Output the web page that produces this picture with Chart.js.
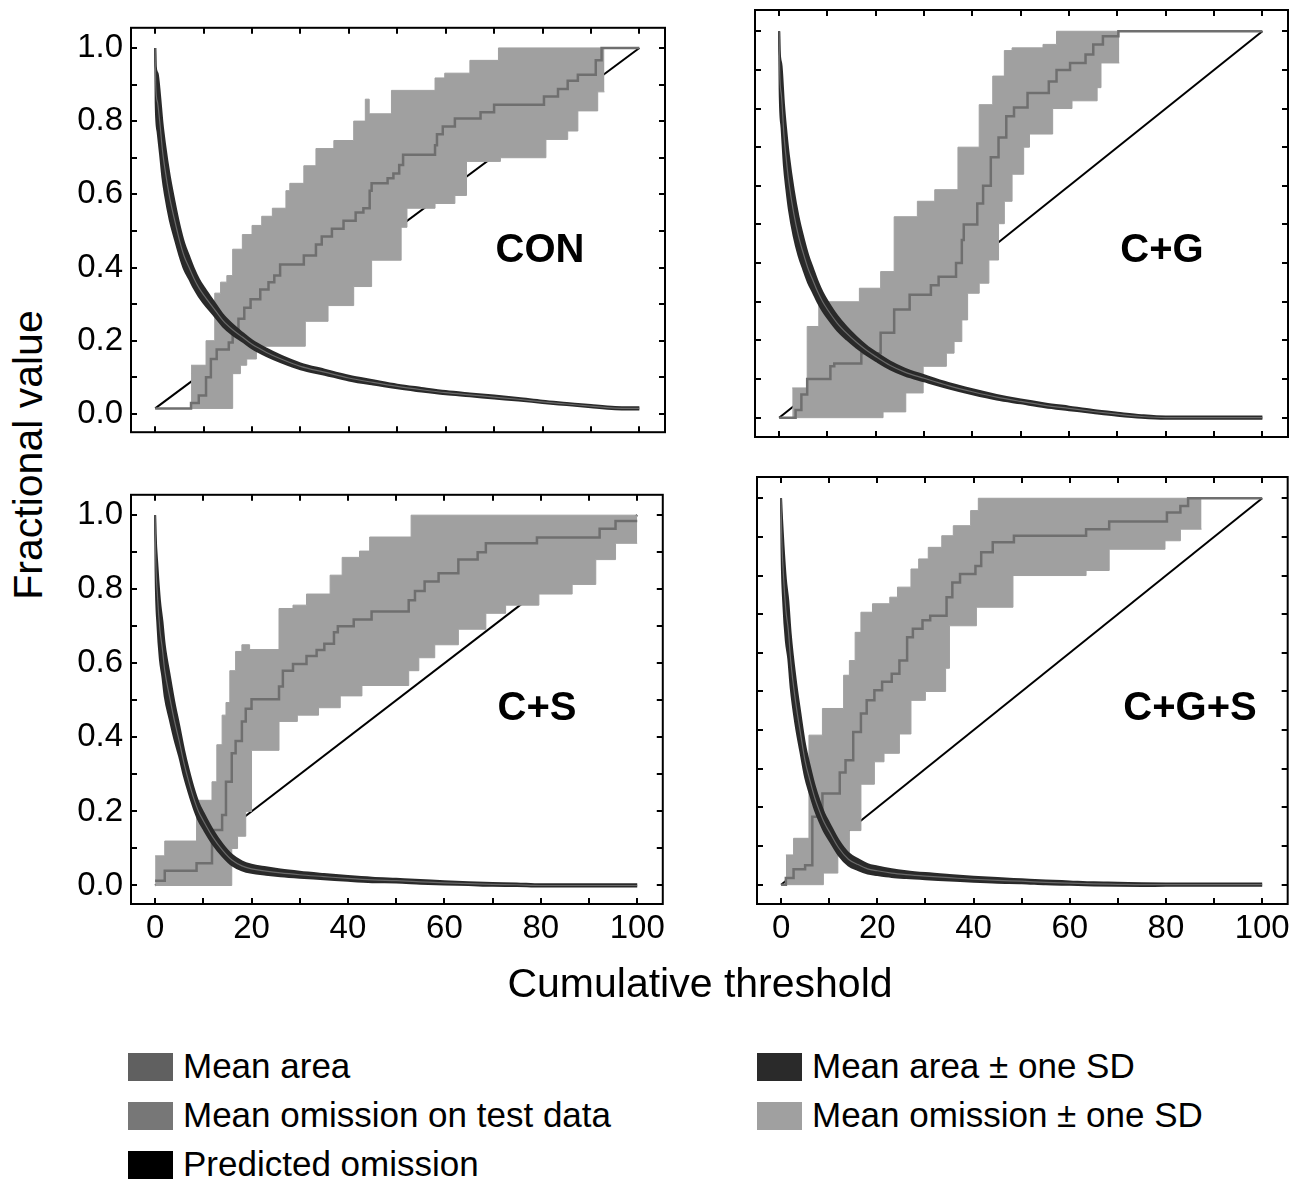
<!DOCTYPE html>
<html lang="en">
<head>
  <meta charset="UTF-8">
  <title>Omission and predicted area</title>
  <script src="https://cdn.jsdelivr.net/npm/chart.js"></script>
  <style>
    body {
      margin: 0;
      background: white;
      font-family: "Liberation Sans", Arial, sans-serif;
      color: black;
    }
    #page {
      position: relative;
      width: 1297px;
      height: 1179px;
      overflow: hidden;
    }
    canvas { position: absolute; }
    .tag {
      position: absolute;
      font-weight: bold;
      font-size: 40px;
      transform: translate(-50%, -50%);
      white-space: nowrap;
    }
    .title {
      position: absolute;
      font-size: 41px;
      white-space: nowrap;
      transform: translate(-50%, -50%);
    }
    .key {
      position: absolute;
      font-size: 35px;
      white-space: nowrap;
      transform: translateY(-50%);
    }
    .key span {
      display: inline-block;
      width: 45px;
      height: 28px;
      margin-right: 10px;
      vertical-align: -3px;
    }
  </style>
</head>
<body>
<div id="page">
  <canvas id="pCON" width="610" height="460" style="left:60px;top:0px"></canvas>
  <canvas id="pCG" width="605" height="460" style="left:690px;top:0px"></canvas>
  <canvas id="pCS" width="610" height="493" style="left:60px;top:467px"></canvas>
  <canvas id="pCGS" width="605" height="493" style="left:690px;top:467px"></canvas>

  <div class="tag" style="left:540px;top:248px">CON</div>
  <div class="tag" style="left:1162px;top:248px">C+G</div>
  <div class="tag" style="left:537px;top:706px">C+S</div>
  <div class="tag" style="left:1190px;top:706px">C+G+S</div>

  <div class="title" style="left:28px;top:455px;transform:translate(-50%,-50%) rotate(-90deg)">Fractional value</div>
  <div class="title" style="left:700px;top:983px">Cumulative threshold</div>

  <div class="key" style="left:128px;top:1066px"><span style="background:#606060"></span>Mean area</div>
  <div class="key" style="left:128px;top:1115px"><span style="background:#777777"></span>Mean omission on test data</div>
  <div class="key" style="left:128px;top:1164px"><span style="background:#000000"></span>Predicted omission</div>
  <div class="key" style="left:757px;top:1066px"><span style="background:#2a2a2a"></span>Mean area ± one SD</div>
  <div class="key" style="left:757px;top:1115px"><span style="background:#a0a0a0"></span>Mean omission ± one SD</div>
</div>

<script>
  // tick positions
  const xTicks = [0, 10, 20, 30, 40, 50, 60, 70, 80, 90, 100];
  const yTicks = [0, 0.1, 0.2, 0.3, 0.4, 0.5, 0.6, 0.7, 0.8, 0.9, 1.0];

  // fractional predicted area (mean) read at these thresholds
  const xGrid = [0, 0.1, 0.5, 1, 1.5, 2, 3, 4, 5, 6, 7, 8, 9, 10, 12, 14, 16, 18, 20, 23, 26, 30, 35, 40, 45, 50, 55, 60, 65, 70, 75, 80, 85, 90, 95, 100];
  const areaCON = [1.0, 0.9, 0.85, 0.79, 0.72, 0.67, 0.59, 0.53, 0.475, 0.43, 0.40, 0.37, 0.345, 0.325, 0.29, 0.255, 0.23, 0.21, 0.19, 0.168, 0.15, 0.13, 0.114, 0.098, 0.086, 0.075, 0.066, 0.058, 0.052, 0.046, 0.04, 0.033, 0.027, 0.021, 0.016, 0.015];
  const areaCG = [1.0, 0.9, 0.83, 0.73, 0.665, 0.61, 0.53, 0.47, 0.425, 0.385, 0.355, 0.325, 0.30, 0.28, 0.245, 0.218, 0.195, 0.175, 0.158, 0.135, 0.118, 0.102, 0.083, 0.067, 0.053, 0.042, 0.032, 0.024, 0.016, 0.009, 0.003, 0, 0, 0, 0, 0];
  const areaCS = [1.0, 0.9, 0.78, 0.69, 0.64, 0.58, 0.51, 0.445, 0.39, 0.33, 0.28, 0.236, 0.2, 0.175, 0.13, 0.095, 0.068, 0.053, 0.045, 0.039, 0.034, 0.029, 0.024, 0.019, 0.015, 0.013, 0.01, 0.007, 0.005, 0.003, 0.002, 0, 0, 0, 0, 0];
  const areaCGS = [1.0, 0.92, 0.8, 0.71, 0.66, 0.58, 0.475, 0.395, 0.32, 0.27, 0.225, 0.19, 0.16, 0.138, 0.095, 0.066, 0.052, 0.041, 0.036, 0.03, 0.026, 0.022, 0.018, 0.014, 0.011, 0.009, 0.006, 0.004, 0.002, 0.001, 0, 0, 0, 0, 0, 0];
  // one SD of the area (same grid)
  const areaSD = [0, 0.05, 0.08, 0.08, 0.075, 0.07, 0.06, 0.05, 0.042, 0.036, 0.031, 0.027, 0.024, 0.022, 0.019, 0.016, 0.014, 0.012, 0.011, 0.01, 0.009, 0.008, 0.007, 0.0065, 0.006, 0.005, 0.005, 0.0045, 0.004, 0.004, 0.0035, 0.003, 0.003, 0.003, 0.003, 0.003];

  // omission on test data: [threshold, value] where the step lands
  const omMeanCON = [[0, 0.015], [7.4, 0.03], [9, 0.05], [10.5, 0.1], [11.5, 0.15], [12.7, 0.176], [15.2, 0.195], [16, 0.23], [17.2, 0.26], [18.4, 0.29], [19.7, 0.313], [21.7, 0.34], [23.4, 0.36], [24.6, 0.378], [25.8, 0.408], [30.7, 0.433], [33.2, 0.463], [34.4, 0.485], [36.5, 0.506], [38.9, 0.528], [41.4, 0.55], [43, 0.562], [44.3, 0.61], [44.7, 0.63], [48, 0.644], [49.2, 0.657], [50.4, 0.68], [51.2, 0.708], [57.8, 0.734], [58.2, 0.764], [59.4, 0.785], [61.9, 0.807], [67.2, 0.824], [70, 0.845], [80.3, 0.867], [83.2, 0.888], [85.2, 0.91], [87.3, 0.927], [91, 0.966], [92.2, 1.0], [100, 1.0]];
  const omUpCON = [[7.4, 0.133], [10.5, 0.2], [12.3, 0.33], [13.5, 0.36], [14.8, 0.378], [16, 0.45], [18, 0.49], [20, 0.515], [22, 0.54], [24.2, 0.562], [27, 0.61], [27.8, 0.63], [30.7, 0.678], [33.2, 0.725], [36.9, 0.747], [41, 0.8], [43.4, 0.86], [44.2, 0.82], [48.8, 0.884], [57.8, 0.918], [59.8, 0.931], [65, 0.966], [70.9, 1.0], [92.8, 1.0]];
  const omLoCON = [[7.4, 0.015], [16, 0.11], [17.6, 0.133], [18.9, 0.15], [20.9, 0.185], [31, 0.253], [35.7, 0.296], [41, 0.348], [44.7, 0.42], [50.8, 0.51], [52, 0.562], [57.8, 0.575], [61.9, 0.597], [64.3, 0.69], [71.3, 0.7], [80.7, 0.75], [85.2, 0.773], [87.3, 0.828], [91.4, 0.88], [92.8, 0.88]];

  const omMeanCG = [[0, 0], [3.4, 0.02], [4.6, 0.06], [5.8, 0.1], [10.6, 0.133], [11.4, 0.14], [17, 0.167], [21, 0.22], [23.8, 0.28], [27, 0.318], [31.4, 0.343], [33, 0.365], [36.6, 0.4], [37.8, 0.46], [38.2, 0.5], [41, 0.554], [42.2, 0.6], [43.8, 0.674], [45.4, 0.725], [47, 0.78], [48.6, 0.803], [51.4, 0.84], [55.8, 0.87], [57.4, 0.9], [60.2, 0.918], [63.4, 0.94], [65, 0.966], [67, 0.987], [70.2, 1.0], [100, 1.0]];
  const omUpCG = [[2.7, 0.077], [5.8, 0.236], [8.2, 0.3], [16.6, 0.335], [21, 0.378], [23.8, 0.52], [28.6, 0.56], [32.2, 0.59], [37, 0.7], [41.4, 0.81], [44.2, 0.884], [46.6, 0.95], [48.2, 0.957], [54.6, 0.966], [57.4, 1.0], [70.4, 1.0]];
  const omLoCG = [[2.7, 0], [21.5, 0.015], [26.2, 0.064], [29.8, 0.133], [34.6, 0.167], [36.2, 0.197], [37.8, 0.253], [39, 0.322], [41.4, 0.348], [43.4, 0.408], [45.4, 0.502], [46.6, 0.56], [48.2, 0.63], [50.6, 0.7], [51.8, 0.734], [56.6, 0.8], [60.6, 0.82], [65.8, 0.854], [66.6, 0.918], [70.4, 0.918]];

  const omMeanCS = [[0, 0.013], [2, 0.04], [8.6, 0.06], [11.8, 0.15], [13.9, 0.19], [14.7, 0.28], [15.9, 0.357], [16.7, 0.39], [18, 0.443], [18.8, 0.477], [20, 0.503], [25.7, 0.537], [26.5, 0.58], [28.6, 0.598], [31.4, 0.62], [33.5, 0.636], [35.1, 0.653], [37.1, 0.684], [37.9, 0.7], [41.2, 0.718], [44.9, 0.74], [52.6, 0.77], [53.9, 0.795], [55.9, 0.821], [58.8, 0.843], [62.9, 0.88], [66.9, 0.9], [68.6, 0.924], [79.2, 0.94], [92.2, 0.963], [95.5, 0.984], [100, 0.984]];
  const omUpCS = [[0, 0.08], [2, 0.12], [8.6, 0.23], [11.8, 0.28], [12.8, 0.38], [13.9, 0.46], [14.7, 0.494], [15.5, 0.58], [16.7, 0.632], [18, 0.65], [19.6, 0.637], [25.7, 0.748], [28.6, 0.757], [31.4, 0.787], [36.3, 0.838], [38.8, 0.886], [42.4, 0.903], [44.5, 0.941], [53.1, 1.0], [100, 1.0]];
  const omLoCS = [[0, 0], [15.9, 0.1], [17.1, 0.133], [18.8, 0.2], [20, 0.365], [25.7, 0.443], [29.5, 0.46], [33.9, 0.48], [38.4, 0.512], [42.9, 0.54], [52.6, 0.58], [54.7, 0.615], [58, 0.65], [62.9, 0.692], [68.6, 0.735], [72.7, 0.757], [79.6, 0.787], [86.5, 0.813], [91.4, 0.88], [95.5, 0.924], [100, 0.924]];

  const omMeanCGS = [[0, 0], [1, 0.017], [2.6, 0.04], [5, 0.05], [6.5, 0.176], [8.6, 0.236], [12.2, 0.29], [13.4, 0.322], [15, 0.395], [16.6, 0.443], [17.8, 0.477], [19.4, 0.503], [21, 0.525], [23, 0.546], [24.6, 0.58], [26.2, 0.64], [27.4, 0.662], [29.4, 0.684], [31, 0.696], [34.4, 0.744], [35.6, 0.782], [37.2, 0.804], [40.4, 0.825], [41.6, 0.86], [44, 0.886], [48.4, 0.903], [63.4, 0.92], [68.2, 0.94], [80.2, 0.963], [83, 0.98], [84.6, 1.0], [100, 1.0]];
  const omUpCGS = [[1, 0.077], [2.6, 0.12], [5.8, 0.387], [8.6, 0.456], [13, 0.542], [14.2, 0.58], [15.4, 0.653], [16.6, 0.705], [19, 0.727], [22.6, 0.744], [24.2, 0.77], [27, 0.817], [28.6, 0.843], [30.6, 0.873], [33.4, 0.903], [35.8, 0.929], [39.4, 0.968], [41, 1.0], [87.4, 1.0]];
  const omLoCGS = [[1, 0], [8.8, 0.03], [11.8, 0.08], [14.2, 0.14], [16.6, 0.26], [19.4, 0.318], [21.4, 0.34], [24.6, 0.39], [27, 0.477], [30, 0.5], [34.2, 0.56], [35, 0.67], [40.6, 0.718], [48.2, 0.8], [63.4, 0.813], [68.2, 0.868], [79.8, 0.89], [83, 0.92], [87.4, 0.92]];

  // predicted omission (straight line)
  const predCON = [[0, 0.015], [100, 1.0]];
  const predLine = [[0, 0], [100, 1.0]];

  const FONT = "'Liberation Sans', Arial, sans-serif";

  const toXY = pairs => pairs.map(p => ({ x: p[0], y: p[1] }));
  const areaBand = (mean, sign) => xGrid.map((x, i) => ({ x: x, y: mean[i] + sign * areaSD[i] }));

  // frame with inward ticks on all four sides
  const framePlugin = {
    id: 'frame',
    afterDraw(chart) {
      const ctx = chart.ctx;
      const a = chart.chartArea;
      const sx = chart.scales.x, sy = chart.scales.y;
      ctx.save();
      ctx.strokeStyle = '#000';
      ctx.lineWidth = 2;
      ctx.beginPath();
      for (const v of xTicks) {
        const px = Math.round(sx.getPixelForValue(v));
        ctx.moveTo(px, a.top); ctx.lineTo(px, a.top + 6);
        ctx.moveTo(px, a.bottom); ctx.lineTo(px, a.bottom - 6);
      }
      for (const v of yTicks) {
        const py = Math.round(sy.getPixelForValue(v));
        ctx.moveTo(a.left, py); ctx.lineTo(a.left + 6, py);
        ctx.moveTo(a.right, py); ctx.lineTo(a.right - 6, py);
      }
      ctx.stroke();
      ctx.strokeRect(a.left, a.top, a.right - a.left, a.bottom - a.top);
      ctx.restore();
    }
  };

  function makePanel(id, p) {
    const datasets = [
      { data: areaBand(p.area, 0), borderColor: '#6a6a6a', borderWidth: 1.2, cubicInterpolationMode: 'monotone' },
      { data: areaBand(p.area, 1), borderColor: '#2a2a2a', borderWidth: 2, backgroundColor: '#2a2a2a', fill: 2, cubicInterpolationMode: 'monotone' },
      { data: areaBand(p.area, -1), borderColor: '#2a2a2a', borderWidth: 2, cubicInterpolationMode: 'monotone' },
      { data: toXY(p.mean), borderColor: '#6f6f6f', borderWidth: 2.5, stepped: true },
      { data: toXY(p.up), borderColor: '#a0a0a0', borderWidth: 1, backgroundColor: '#a0a0a0', fill: 5, stepped: true },
      { data: toXY(p.lo), borderColor: '#a0a0a0', borderWidth: 1, stepped: true },
      { data: toXY(p.pred), borderColor: '#000', borderWidth: 2 }
    ];
    new Chart(document.getElementById(id), {
      type: 'line',
      data: { datasets: datasets },
      plugins: [framePlugin],
      options: {
        responsive: false,
        animation: false,
        events: [],
        layout: { padding: { top: 10, right: p.padRight, left: 0, bottom: 0 } },
        elements: { point: { radius: 0 }, line: { tension: 0 } },
        plugins: { legend: { display: false }, tooltip: { enabled: false } },
        scales: {
          x: {
            type: 'linear',
            min: -5,
            max: 105.3,
            afterBuildTicks: s => { s.ticks = xTicks.map(v => ({ value: v })); },
            afterFit: s => { s.height = p.xHeight; },
            grid: { display: false, drawTicks: false },
            border: { display: false },
            ticks: {
              display: p.showX,
              autoSkip: false,
              maxRotation: 0,
              padding: 5,
              color: '#000',
              font: { family: FONT, size: 33 },
              callback: v => (v % 20 === 0 ? String(v) : '')
            }
          },
          y: {
            min: -0.05,
            max: 1.055,
            afterBuildTicks: s => { s.ticks = yTicks.map(v => ({ value: v })); },
            afterFit: s => { s.width = p.yWidth; },
            grid: { display: false, drawTicks: false },
            border: { display: false },
            ticks: {
              display: p.showY,
              autoSkip: false,
              padding: 8,
              color: '#000',
              font: { family: FONT, size: 33 },
              callback: v => (Math.round(v * 10) % 2 === 0 ? v.toFixed(1) : '')
            }
          }
        }
      }
    });
  }

  makePanel('pCON', { area: areaCON, mean: omMeanCON, up: omUpCON, lo: omLoCON, pred: predCON,
    showX: false, showY: true, yWidth: 71, xHeight: 23, padRight: 5 });
  makePanel('pCG', { area: areaCG, mean: omMeanCG, up: omUpCG, lo: omLoCG, pred: predLine,
    showX: false, showY: false, yWidth: 65, xHeight: 23, padRight: 7 });
  makePanel('pCS', { area: areaCS, mean: omMeanCS, up: omUpCS, lo: omLoCS, pred: predLine,
    showX: true, showY: true, yWidth: 71, xHeight: 56, padRight: 5 });
  makePanel('pCGS', { area: areaCGS, mean: omMeanCGS, up: omUpCGS, lo: omLoCGS, pred: predLine,
    showX: true, showY: false, yWidth: 67, xHeight: 56, padRight: 6 });
</script>
</body>
</html>
